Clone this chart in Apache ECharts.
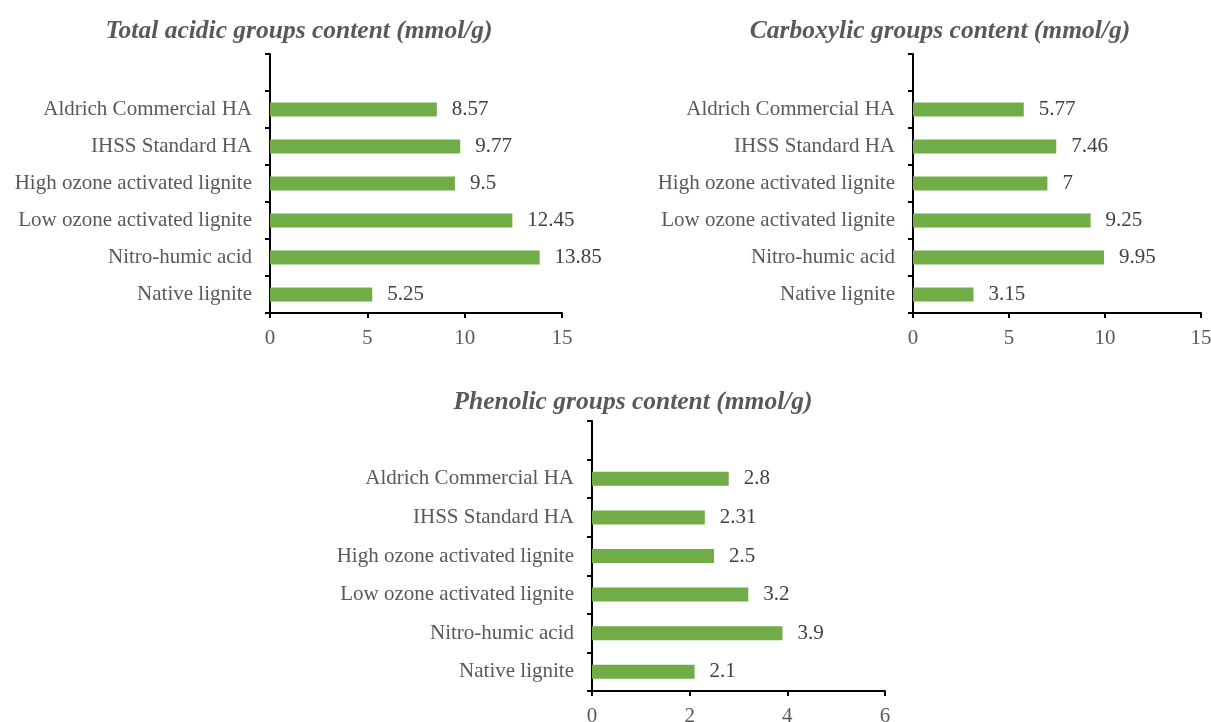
<!DOCTYPE html>
<html>
<head>
<meta charset="utf-8">
<style>
  html, body { margin: 0; padding: 0; background: #fff; }
  #chart { width: 1211px; height: 722px; }
</style>
<script src="https://cdn.jsdelivr.net/npm/echarts@6/dist/echarts.min.js"></script>
</head>
<body>
<div id="chart"></div>
<script>
// Samples, listed bottom to top as they appear on the category axis
const categories = [
  'Native lignite',
  'Nitro-humic acid',
  'Low ozone activated lignite',
  'High ozone activated lignite',
  'IHSS Standard HA',
  'Aldrich Commercial HA'
];

// Functional group contents (mmol/g)
const totalAcidic = [5.25, 13.85, 12.45, 9.5, 9.77, 8.57];
const carboxylic = [3.15, 9.95, 9.25, 7, 7.46, 5.77];
const phenolic = [2.1, 3.9, 3.2, 2.5, 2.31, 2.8];

const panelTitles = [
  'Total acidic groups content (mmol/g)',
  'Carboxylic groups content (mmol/g)',
  'Phenolic groups content (mmol/g)'
];

// Value axis ticks for each panel
const ticksTotal = [0, 5, 10, 15];
const ticksCarboxylic = [0, 5, 10, 15];
const ticksPhenolic = [0, 2, 4, 6];

const panels = [
  { title: panelTitles[0], values: totalAcidic, ticks: ticksTotal,
    grid: { left: 270, top: 54, width: 292, height: 259 }, titlePos: { x: 294, y: 12 } },
  { title: panelTitles[1], values: carboxylic, ticks: ticksCarboxylic,
    grid: { left: 913, top: 54, width: 288, height: 259 }, titlePos: { x: 935, y: 12 } },
  { title: panelTitles[2], values: phenolic, ticks: ticksPhenolic,
    grid: { left: 592, top: 421, width: 293, height: 270 }, titlePos: { x: 628, y: 383 } }
];

const FONT = '"Liberation Serif", "Times New Roman", serif';
const GREY = '#595959';
const BAR = '#70AD47';

// An empty slot is kept above the last sample
const axisCategories = categories.concat(['']);

const option = {
  backgroundColor: '#ffffff',
  animation: false,
  title: panels.map(p => ({
    text: p.title,
    left: p.titlePos.x,
    top: p.titlePos.y,
    textAlign: 'center',
    textStyle: {
      fontFamily: FONT, fontSize: 25.5, fontWeight: 'bold', fontStyle: 'italic',
      color: GREY, lineHeight: 28
    }
  })),
  // fixed plot rectangles; tick labels may run past the canvas edge
  grid: panels.map(p => Object.assign({ containLabel: false, outerBoundsMode: 'none' }, p.grid)),
  xAxis: panels.map((p, i) => ({
    type: 'value',
    gridIndex: i,
    min: p.ticks[0],
    max: p.ticks[p.ticks.length - 1],
    interval: p.ticks[1] - p.ticks[0],
    splitLine: { show: false },
    axisLine: { show: true, lineStyle: { color: '#000', width: 2 } },
    axisTick: { show: true, length: 5, lineStyle: { color: '#000', width: 2 } },
    axisLabel: { fontFamily: FONT, fontSize: 21, color: GREY, margin: 15 }
  })),
  yAxis: panels.map((p, i) => ({
    type: 'category',
    gridIndex: i,
    data: axisCategories,
    axisLine: { show: true, lineStyle: { color: '#000', width: 2 } },
    axisTick: { show: true, length: 5, lineStyle: { color: '#000', width: 2 } },
    axisLabel: { fontFamily: FONT, fontSize: 21, color: GREY, margin: 18 },
    splitLine: { show: false }
  })),
  series: panels.map((p, i) => ({
    type: 'bar',
    xAxisIndex: i,
    yAxisIndex: i,
    data: p.values,
    barWidth: 14,
    itemStyle: { color: BAR },
    label: {
      show: true,
      position: 'right',
      distance: 15,
      fontFamily: FONT,
      fontSize: 21,
      color: '#404040',
      formatter: '{c}'
    }
  }))
};

const chart = echarts.init(document.getElementById('chart'), null, { renderer: 'canvas' });
chart.setOption(option);
</script>
</body>
</html>
